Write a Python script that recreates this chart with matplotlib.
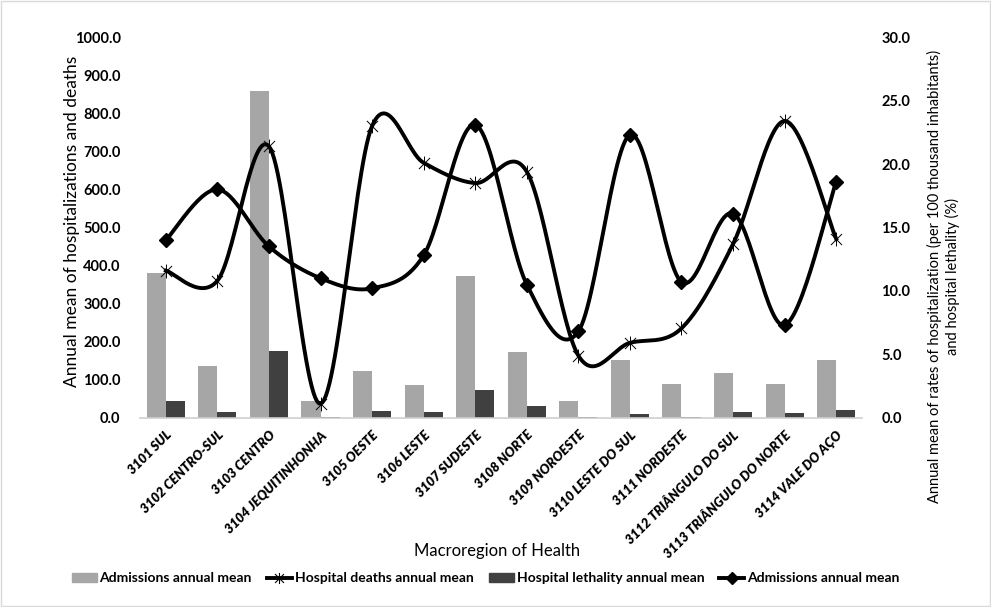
import numpy as np
import matplotlib.pyplot as plt
from matplotlib.path import Path
from matplotlib.lines import Line2D
from matplotlib.patches import Patch, Rectangle

plt.rcParams['font.family'] = ['Lato', 'DejaVu Sans']

regions = ['3101 SUL', '3102 CENTRO-SUL', '3103 CENTRO', '3104 JEQUITINHONHA',
           '3105 OESTE', '3106 LESTE', '3107 SUDESTE', '3108 NORTE',
           '3109 NOROESTE', '3110 LESTE DO SUL', '3111 NORDESTE',
           '3112 TRIÂNGULO DO SUL', '3113 TRIÂNGULO DO NORTE', '3114 VALE DO AÇO']

# left axis (bars)
admissions_mean = [381, 136, 858, 44, 124, 86, 372, 172, 45, 151, 88, 117, 89, 151]
lethality_mean = [45, 14, 175, 0.5, 18, 15, 73, 31, 2, 9, 3, 16, 12, 19]

# right axis (lines)
deaths_rate = [11.6, 10.8, 21.4, 1.1, 23.0, 20.1, 18.5, 19.4, 4.9, 5.9, 7.05, 13.7, 23.4, 14.1]
admissions_rate = [14.0, 18.0, 13.5, 11.0, 10.2, 12.8, 23.1, 10.5, 6.8, 22.3, 10.7, 16.1, 7.3, 18.6]


def smooth(x, y, n=30):
    # excel-like smoothed line: bezier segments with catmull-rom control points
    p = np.column_stack([x, y]).astype(float)
    p = np.vstack([p[0], p, p[-1]])
    xs, ys = [], []
    t = np.linspace(0, 1, n)[:, None]
    for i in range(1, len(p) - 2):
        b0 = p[i]
        b3 = p[i + 1]
        b1 = p[i] + (p[i + 1] - p[i - 1]) / 6
        b2 = p[i + 1] - (p[i + 2] - p[i]) / 6
        c = ((1 - t) ** 3) * b0 + 3 * ((1 - t) ** 2) * t * b1 + 3 * (1 - t) * t ** 2 * b2 + t ** 3 * b3
        xs.extend(c[:, 0])
        ys.extend(c[:, 1])
    return xs, ys


star = Path([(-1, -1), (1, 1), (-1, 1), (1, -1), (0, -1.25), (0, 1.25)],
            [Path.MOVETO, Path.LINETO, Path.MOVETO, Path.LINETO, Path.MOVETO, Path.LINETO])

fig = plt.figure(figsize=(9.91, 6.07), dpi=100)
ax = fig.add_axes([0.1413, 0.3119, 0.7285, 0.6267])
ax2 = ax.twinx()

x = np.arange(len(regions))
w = 0.37
light = '#a6a6a6'
dark = '#404040'
ax.bar(x - w / 2, admissions_mean, w, color=light, zorder=1)
ax.bar(x + w / 2, lethality_mean, w, color=dark, zorder=1)

ax.set_xlim(-0.5, len(regions) - 0.5)
ax.set_ylim(0, 1000)
ax.set_yticks(np.arange(0, 1001, 100))
ax.set_yticklabels([f'{v:.1f}' for v in np.arange(0, 1001, 100)], fontweight='bold', fontsize=10.5)
ax2.set_ylim(0, 30)
ax2.set_yticks(np.arange(0, 31, 5))
ax2.set_yticklabels([f'{v:.1f}' for v in np.arange(0, 31, 5)], fontweight='bold', fontsize=10.5)

sx, sy = smooth(x, deaths_rate)
ax2.plot(sx, sy, color='black', lw=2.8, zorder=3)
ax2.plot(x, deaths_rate, ls='none', marker=star, ms=10, mew=0.7, mec='black', zorder=4)
sx, sy = smooth(x, admissions_rate)
ax2.plot(sx, sy, color='black', lw=2.8, zorder=3)
ax2.plot(x, admissions_rate, ls='none', marker='D', ms=7, color='black', zorder=4)

for a in (ax, ax2):
    for s in ('top', 'left', 'right'):
        a.spines[s].set_visible(False)
    a.tick_params(length=0)
ax.spines['bottom'].set_color('#d0d0d0')
ax.spines['bottom'].set_linewidth(1.2)
ax2.spines['bottom'].set_visible(False)
ax.tick_params(axis='y', pad=14)
ax2.tick_params(axis='y', pad=14)

ax.set_xticks(x)
ax.set_xticklabels(regions, rotation=45, ha='right', rotation_mode='anchor',
                   fontweight='heavy', fontstyle='italic', fontsize=9.5)
ax.tick_params(axis='x', pad=8)

fig.text(0.0727, 0.636, 'Annual mean of hospitalizations and deaths', rotation=90,
         ha='center', va='center', fontsize=12.5)
fig.text(0.952, 0.544,
         'Annual mean of rates of hospitalization (per 100 thousand inhabitants)\nand hospital lethality (%)',
         rotation=90, ha='center', va='center', multialignment='center', fontsize=10.5)
fig.text(0.502, 0.092, 'Macroregion of Health', ha='center', va='center', fontsize=12)

handles = [Patch(color=light),
           Line2D([], [], color='black', lw=2.8, marker=star, ms=8, mew=0.8),
           Patch(color=dark),
           Line2D([], [], color='black', lw=2.8, marker='D', ms=6)]
labels = ['Admissions annual mean', 'Hospital deaths annual mean',
          'Hospital lethality annual mean', 'Admissions annual mean']
leg = fig.legend(handles, labels, loc='center', bbox_to_anchor=(0.49, 0.047), ncol=4,
                 frameon=False, fontsize=10, handlelength=1.8, handleheight=0.55,
                 handletextpad=0.2, columnspacing=1.1)
for t in leg.get_texts():
    t.set_fontweight('bold')

fig.add_artist(Rectangle((0.001, 0.001), 0.998, 0.997, transform=fig.transFigure,
                         fill=False, edgecolor='#d9d9d9', lw=1))

fig.savefig('out.png', dpi=100)
